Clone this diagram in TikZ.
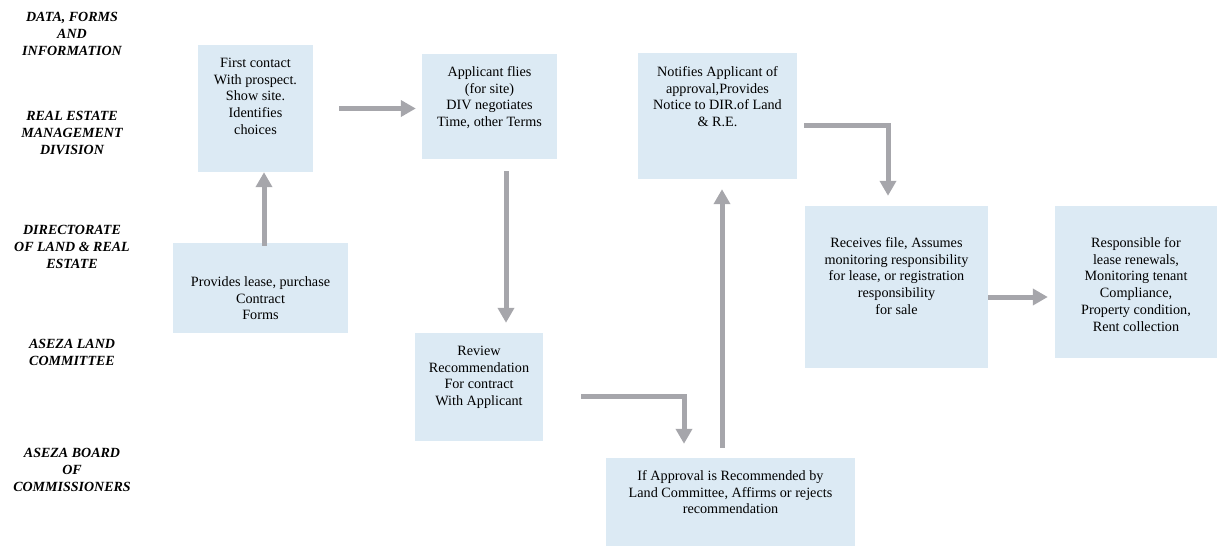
\documentclass[tikz,border=0pt]{standalone}
\usepackage{fontspec}
\setmainfont{Liberation Serif}
\usepackage{tikz}
\usetikzlibrary{arrows.meta}

\definecolor{boxblue}{RGB}{220,234,244}
\definecolor{flowgray}{RGB}{166,166,171}

% box text: width, height, top gap, lines
\newcommand{\cellbox}[4]{\parbox[c][#2][t]{#1}{\centering\vspace*{#3}#4\par}}

\tikzset{
  lane/.style={font=\fontsize{14}{17}\selectfont\bfseries\itshape, align=center, inner sep=0pt},
  cell/.style={fill=boxblue, inner sep=0pt, font=\fontsize{14.2}{16.7}\selectfont},
  flow/.style={draw=flowgray, line width=5pt, -{Triangle[length=15pt,width=16pt]}}
}

\begin{document}
\begin{tikzpicture}[x=1pt,y=1pt,yscale=-1,xscale=1]
\useasboundingbox (0,0) rectangle (1218,546);

% Lane Labels
\node [lane] (lanedata) at (72,34) {DATA, FORMS\\AND\\INFORMATION};
\node [lane] (lanediv) at (72,133) {REAL ESTATE\\MANAGEMENT\\DIVISION};
\node [lane] (lanedir) at (72,247) {DIRECTORATE\\OF LAND \& REAL\\ESTATE};
\node [lane] (lanecom) at (72,352) {ASEZA LAND\\COMMITTEE};
\node [lane] (laneboard) at (72,470) {ASEZA BOARD\\OF\\COMMISSIONERS};

% Text Node
\node [cell] (firstcontact) at (255.5,108.5) {\cellbox{115pt}{127pt}{13pt}{First contact\\With prospect.\\Show site.\\Identifies\\choices}};
% Text Node
\node [cell] (applicant) at (489.5,106.5) {\cellbox{135pt}{105pt}{12.5pt}{Applicant flies\\(for site)\\DIV negotiates\\Time, other Terms}};
% Text Node
\node [cell] (provides) at (260.5,288) {\cellbox{175pt}{90pt}{33.5pt}{Provides lease, purchase\\Contract\\Forms}};
% Text Node
\node [cell] (notifies) at (717.5,116) {\cellbox{159pt}{126pt}{13.5pt}{Notifies Applicant of\\approval,Provides\\Notice to DIR.of Land\\\& R.E.}};
% Text Node
\node [cell] (receives) at (896.5,287) {\cellbox{183pt}{162pt}{31.5pt}{Receives file, Assumes\\monitoring responsibility\\for lease, or registration\\responsibility\\for sale}};
% Text Node
\node [cell] (responsible) at (1136,282) {\cellbox{162pt}{152pt}{31.5pt}{Responsible for\\lease renewals,\\Monitoring tenant\\Compliance,\\Property condition,\\Rent collection}};
% Text Node
\node [cell] (review) at (479,387) {\cellbox{128pt}{108pt}{13pt}{Review\\Recommendation\\For contract\\With Applicant}};
% Text Node
\node [cell] (board) at (730.5,502) {\cellbox{249pt}{88pt}{12.5pt}{If Approval is Recommended by\\Land Committee, Affirms or rejects\\recommendation}};

%Straight Lines
\draw [flow, shorten <=-3pt] ([xshift=3.5]provides.north) -- ([xshift=3.5]provides.north |- firstcontact.south);
\draw [flow, shorten <=26pt, shorten >=6pt] (firstcontact.east) -- (firstcontact.east -| applicant.west);
\draw [flow, shorten <=12pt, shorten >=10pt] ([xshift=16.5]applicant.south) -- ([xshift=16.5]applicant.south |- review.north);
\draw [flow, shorten <=38pt, shorten >=14pt] ([yshift=9]review.east) -| ([xshift=-46.5]board.north);
\draw [flow, shorten <=10pt, shorten >=10pt] ([xshift=-8.5]board.north) -- ([xshift=-8.5]board.north |- notifies.south);
\draw [flow, shorten <=7pt, shorten >=10pt] ([yshift=9]notifies.east) -| ([xshift=-8.5]receives.north);
\draw [flow, shorten >=7pt] ([yshift=10]receives.east) -- ([yshift=10]receives.east -| responsible.west);

\end{tikzpicture}
\end{document}
